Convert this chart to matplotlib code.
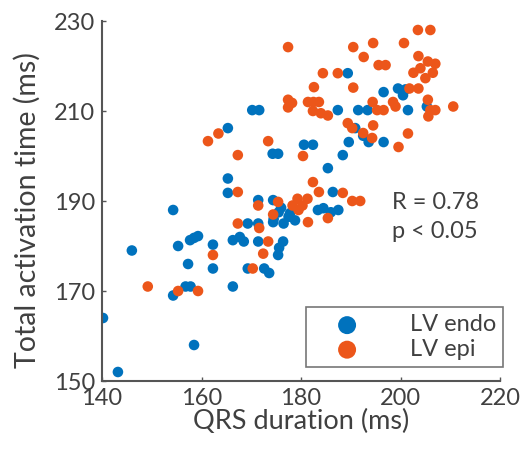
import matplotlib
matplotlib.use("Agg")
import matplotlib.pyplot as plt

plt.rcParams['font.family'] = ['Lato', 'DejaVu Sans']

# LV endo (blue)
endo_qrs = [140.2, 143.2, 146.0, 154.3, 155.3, 157.3, 157.7, 158.5, 159.3, 162.3,
            162.3, 154.3, 156.8, 157.8, 158.5, 166.3, 165.3, 165.3, 165.3, 170.2,
            171.6, 174.3, 175.4, 171.4, 174.4, 169.3, 171.4, 166.3, 167.7, 168.5,
            171.4, 176.4, 175.6, 175.4, 169.3, 172.6, 173.6, 174.5, 175.5, 176.5,
            177.5, 176.0, 180.6, 182.4, 183.4, 184.5, 186.0, 187.5, 185.4, 186.4,
            188.4, 189.6, 187.4, 189.4, 191.5, 193.4, 190.9, 193.6, 196.6, 196.6,
            199.5, 200.5, 201.0, 201.5, 205.3, 192.5, 178.8, 174.4, 177.8]
endo_tat = [164.0, 152.0, 179.0, 188.0, 180.0, 176.0, 181.3, 181.8, 182.2, 180.3,
            175.0, 169.0, 171.0, 171.0, 158.0, 171.0, 191.8, 195.0, 206.2, 210.2,
            210.2, 200.5, 200.5, 190.2, 190.2, 185.0, 185.0, 181.3, 182.0, 181.0,
            181.0, 181.0, 179.6, 178.0, 175.0, 175.0, 174.0, 186.0, 187.5, 185.0,
            186.5, 188.5, 202.5, 202.5, 188.0, 188.4, 187.5, 188.0, 197.3, 192.0,
            200.2, 203.1, 210.2, 218.4, 210.2, 210.2, 206.2, 203.1, 203.1, 214.2,
            215.0, 213.5, 214.8, 210.2, 211.0, 204.5, 185.7, 185.3, 187.3]

# LV epi (orange)
epi_qrs = [149.2, 155.3, 159.3, 162.3, 161.3, 163.4, 167.3, 167.3, 173.4, 177.4,
           177.4, 177.4, 171.4, 175.4, 167.3, 171.6, 174.4, 173.4, 172.4, 170.3,
           178.3, 179.3, 180.3, 181.3, 179.5, 180.4, 181.4, 182.4, 183.6, 185.4,
           188.4, 190.3, 191.9, 184.4, 182.6, 181.4, 182.5, 183.6, 182.4, 184.0,
           185.4, 178.2, 187.4, 190.5, 194.5, 200.7, 192.6, 203.6, 203.5, 206.0,
           195.6, 197.0, 202.6, 204.0, 205.5, 206.5, 207.0, 205.0, 190.5, 201.8,
           203.6, 194.4, 195.3, 196.6, 198.5, 199.0, 205.5, 206.0, 207.0, 205.6,
           210.6, 189.4, 190.3, 192.5, 194.5, 194.3, 201.5, 199.6]
epi_tat = [171.0, 170.0, 170.0, 178.0, 203.3, 205.0, 200.2, 192.0, 203.3, 224.2,
           212.5, 210.8, 189.0, 189.8, 185.0, 184.0, 187.0, 181.0, 178.3, 175.0,
           189.0, 190.5, 189.0, 190.5, 188.0, 200.0, 185.3, 194.2, 192.0, 186.2,
           191.8, 190.0, 190.0, 218.4, 215.3, 212.0, 212.0, 212.0, 210.0, 209.5,
           209.0, 211.8, 218.4, 224.2, 225.1, 225.1, 222.0, 222.2, 228.0, 228.0,
           220.2, 220.2, 218.5, 219.5, 221.0, 218.5, 220.5, 217.3, 215.2, 215.0,
           215.0, 212.0, 210.2, 210.2, 212.0, 211.0, 212.5, 210.2, 210.2, 208.8,
           211.0, 207.3, 206.2, 205.1, 206.8, 204.0, 205.0, 202.0]

x_ticks = [140, 160, 180, 200, 220]
y_ticks = [150, 170, 190, 210, 230]
stats_text = "R = 0.78\np < 0.05"

blue = '#0072BD'
orange = '#EC561A'
gray = '#555555'
txt = '#404040'

fig = plt.figure(figsize=(5.27, 4.55), dpi=100)
ax = fig.add_axes([102/527, 1 - 381/455, 398/527, 360/455])

ax.scatter(endo_qrs, endo_tat, s=58, color=blue, edgecolors='none', label='LV endo', zorder=2)
ax.scatter(epi_qrs, epi_tat, s=58, color=orange, edgecolors='none', label='LV epi', zorder=3)

ax.set_xlim(140, 220)
ax.set_ylim(150, 230)
ax.set_xticks(x_ticks)
ax.set_yticks(y_ticks)
for s in ['top', 'right']:
    ax.spines[s].set_visible(False)
for s in ['left', 'bottom']:
    ax.spines[s].set_color(gray)
    ax.spines[s].set_linewidth(1.5)
ax.tick_params(direction='in', length=3, width=1, color=gray, labelsize=17, labelcolor=txt, pad=5)

ax.set_xlabel('QRS duration (ms)', fontsize=19.5, color=txt, labelpad=0)
ax.set_ylabel('Total activation time (ms)', fontsize=20.5, color=txt)
ax.yaxis.set_label_coords(-0.155, 0.475)

ax.text(198.3, 186.5, stats_text, fontsize=17, color=txt, va='center', ha='left', linespacing=1.45)

leg = ax.legend(loc='lower right', bbox_to_anchor=(1.0075, 0.039), borderaxespad=0,
                fontsize=17, frameon=True, fancybox=False, markerscale=1.7,
                handletextpad=1.2, borderpad=0.3, labelspacing=0.15, handlelength=2.9)
leg.get_frame().set_edgecolor(gray)
leg.get_frame().set_linewidth(1.2)
for t in leg.get_texts():
    t.set_color(txt)

fig.savefig('out.png', dpi=100)
